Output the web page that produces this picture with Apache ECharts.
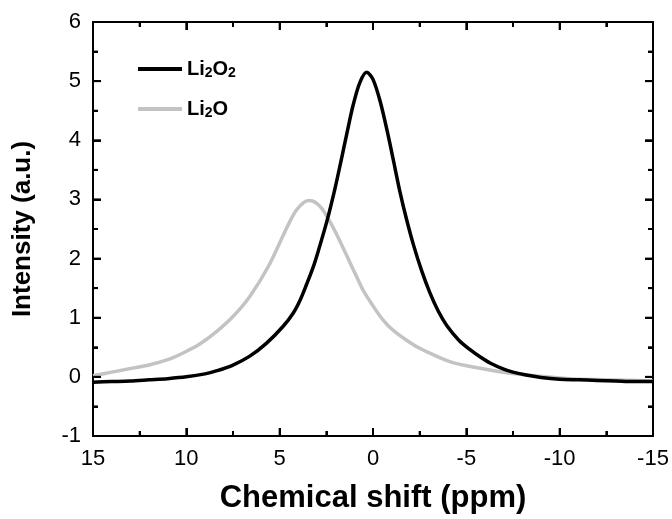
<!DOCTYPE html>
<html>
<head>
<meta charset="utf-8">
<script src="https://cdn.jsdelivr.net/npm/echarts@6/dist/echarts.min.js"></script>
<style>
  html, body { margin: 0; padding: 0; background: #fff; }
  #nmr { width: 672px; height: 519px; }
</style>
</head>
<body>
<div id="nmr"></div>
<script>
// values: [chemical shift (ppm), intensity (a.u.)]
const li2o2Points = [
    [15, -0.09], [14, -0.08], [13, -0.07], [12, -0.05], [11, -0.03], [10, 0.0],
    [9, 0.05], [8.4, 0.10], [7.5, 0.20], [6.6, 0.35], [5.7, 0.57], [4.8, 0.86],
    [4.27, 1.08], [3.9, 1.30], [3.55, 1.57], [3.2, 1.86], [2.93, 2.13], [2.48, 2.62],
    [2.04, 3.18], [1.68, 3.70], [1.41, 4.10], [1.06, 4.60], [0.7, 4.98], [0.34, 5.15],
    [0.0, 5.03], [-0.4, 4.64], [-0.8, 4.10], [-1.1, 3.65], [-1.45, 3.12], [-1.8, 2.66],
    [-2.16, 2.24], [-2.6, 1.80], [-3.05, 1.42], [-3.5, 1.11], [-3.95, 0.87], [-4.6, 0.62],
    [-5.2, 0.46], [-5.73, 0.34], [-6.3, 0.23], [-7.0, 0.13], [-7.5, 0.08], [-8.2, 0.03],
    [-9, -0.01], [-10, -0.04], [-11, -0.05], [-12, -0.06], [-13, -0.07], [-14, -0.08], [-15, -0.08]
];
const li2oPoints = [
    [15, 0.02], [14, 0.08], [13, 0.14], [12, 0.20], [11, 0.29], [10.2, 0.40],
    [9.3, 0.55], [8.4, 0.76], [7.5, 1.02], [6.6, 1.36], [5.6, 1.87], [4.8, 2.40],
    [4.45, 2.63], [4.1, 2.82], [3.7, 2.95], [3.38, 2.98], [3.0, 2.93], [2.7, 2.83],
    [2.3, 2.62], [2.0, 2.44], [1.6, 2.18], [1.23, 1.93], [0.9, 1.71], [0.52, 1.46],
    [0.0, 1.20], [-0.37, 1.03], [-0.8, 0.87], [-1.27, 0.74], [-1.8, 0.62], [-2.4, 0.50],
    [-3.05, 0.40], [-4.2, 0.25], [-5.73, 0.145], [-7.16, 0.07], [-8.94, 0.01], [-10.5, -0.03],
    [-12.5, -0.05], [-15, -0.07]
];
const seriesNames = ['Li2O2', 'Li2O'];
const legendLabels = {
    'Li2O2': '{b|Li}{s|2}{b|O}{s|2}',
    'Li2O': '{b|Li}{s|2}{b|O}'
};

// tick positions on the frame
const xMajorTicks = [15, 10, 5, 0, -5, -10, -15];
const xMinorTicks = [12.5, 7.5, 2.5, -2.5, -7.5, -12.5];
const yMajorTicks = [-1, 0, 1, 2, 3, 4, 5, 6];
const yMinorTicks = [-0.5, 0.5, 1.5, 2.5, 3.5, 4.5, 5.5];

const chartDom = document.getElementById('nmr');
const myChart = echarts.init(chartDom, null, { renderer: 'canvas' });

const font = 'Liberation Sans, Arial, sans-serif';
const xMin = -15, xMax = 15, yMin = -1, yMax = 6;

function frameAxis(extra) {
    return Object.assign({
        axisLine: { show: true, onZero: false, lineStyle: { color: '#000', width: 2 } },
        axisTick: { show: true, inside: true, length: 8, lineStyle: { color: '#000', width: 2 } },
        minorTick: { show: true, splitNumber: 2, length: 5, lineStyle: { color: '#000', width: 2 } },
        splitLine: { show: false }
    }, extra);
}

// inward tick marks drawn as tiny bars pinned to the frame edges
function tickSeries(points, size, offset) {
    return {
        type: 'scatter',
        data: points,
        symbol: 'rect',
        symbolSize: size,
        symbolOffset: offset,
        itemStyle: { color: '#000', opacity: 1 },
        silent: true,
        clip: false,
        z: 4,
        tooltip: { show: false },
        emphasis: { disabled: true }
    };
}

const tickMarks = [
    tickSeries(xMajorTicks.map(v => [v, yMin]), [2, 8], [0, -4]),
    tickSeries(xMinorTicks.map(v => [v, yMin]), [2, 5], [0, -2.5]),
    tickSeries(xMajorTicks.map(v => [v, yMax]), [2, 8], [0, 4]),
    tickSeries(xMinorTicks.map(v => [v, yMax]), [2, 5], [0, 2.5]),
    tickSeries(yMajorTicks.map(v => [xMax, v]), [8, 2], [4, 0]),
    tickSeries(yMinorTicks.map(v => [xMax, v]), [5, 2], [2.5, 0]),
    tickSeries(yMajorTicks.map(v => [xMin, v]), [8, 2], [-4, 0]),
    tickSeries(yMinorTicks.map(v => [xMin, v]), [5, 2], [-2.5, 0])
];

const option = {
    animation: false,
    grid: { left: 93, right: 19, top: 22, bottom: 81 },
    legend: {
        orient: 'vertical',
        left: 133,
        top: 49,
        itemWidth: 44,
        itemHeight: 4,
        itemGap: 14,
        icon: 'rect',
        data: seriesNames,
        formatter: name => legendLabels[name],
        textStyle: {
            color: '#000',
            rich: {
                b: { fontFamily: font, fontSize: 20, fontWeight: 'bold', color: '#000', lineHeight: 22 },
                s: { fontFamily: font, fontSize: 14, fontWeight: 'bold', color: '#000',
                     verticalAlign: 'bottom', lineHeight: 12, padding: [12, 0, 0, 0] }
            }
        }
    },
    xAxis: [
        frameAxis({
            type: 'value', position: 'bottom', min: xMin, max: xMax, interval: 5, inverse: true,
            name: 'Chemical shift (ppm)', nameLocation: 'middle', nameGap: 47,
            nameTextStyle: { fontFamily: font, fontSize: 31, fontWeight: 'bold', color: '#000' },
            axisLabel: { fontFamily: font, fontSize: 22, color: '#000', margin: 12 }
        }),
        frameAxis({
            type: 'value', position: 'top', min: xMin, max: xMax, interval: 5, inverse: true,
            axisLabel: { show: false }
        })
    ],
    yAxis: [
        frameAxis({
            type: 'value', position: 'left', min: yMin, max: yMax, interval: 1,
            name: 'Intensity (a.u.)', nameLocation: 'middle', nameGap: 57,
            nameTextStyle: { fontFamily: font, fontSize: 26, fontWeight: 'bold', color: '#000' },
            axisLabel: { fontFamily: font, fontSize: 22, color: '#000', margin: 12 }
        }),
        frameAxis({
            type: 'value', position: 'right', min: yMin, max: yMax, interval: 1,
            axisLabel: { show: false }
        })
    ],
    series: [
        {
            name: 'Li2O2',
            type: 'line',
            data: li2o2Points,
            smooth: 0.3,
            showSymbol: false,
            color: '#000',
            lineStyle: { color: '#000', width: 3.5 },
            z: 3
        },
        {
            name: 'Li2O',
            type: 'line',
            data: li2oPoints,
            smooth: 0.3,
            showSymbol: false,
            color: '#c3c3c3',
            lineStyle: { color: '#c3c3c3', width: 3.5 },
            z: 2
        },
        ...tickMarks
    ]
};

myChart.setOption(option, true);
</script>
</body>
</html>
